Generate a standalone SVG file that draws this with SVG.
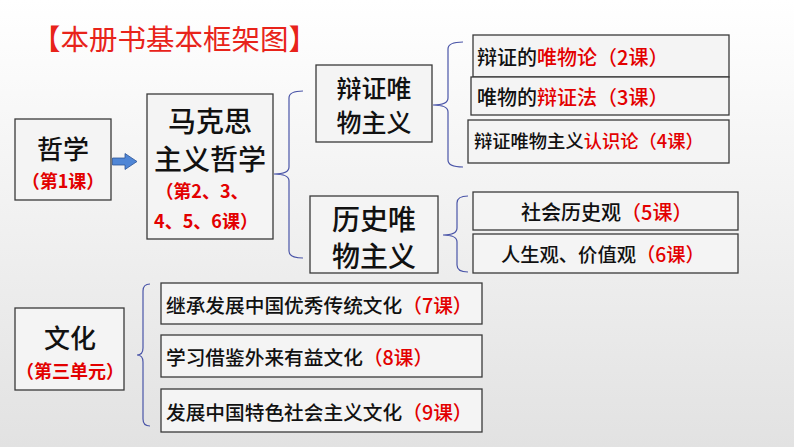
<svg xmlns="http://www.w3.org/2000/svg" width="794" height="447" viewBox="0 0 794 447">
<defs>
<linearGradient id="bg" x1="0" y1="0" x2="0" y2="1">
<stop offset="0" stop-color="#ffffff"/>
<stop offset="0.45" stop-color="#f2f2f2"/>
<stop offset="1" stop-color="#e2e2e2"/>
</linearGradient>
</defs>
<style>
.box{fill:#f4f4f4;stroke:#3a3a3a;stroke-width:1.3}
.t{font-family:"Noto Sans CJK SC","Noto Sans",sans-serif;fill:#111}
.big{font-size:27px;font-weight:500}
.sm{font-size:20px;font-weight:500}
.red{fill:#e30000}
.rs{font-size:18px;font-weight:700;fill:#e30000}
.br{fill:none;stroke:#4a55a8;stroke-width:1.2}
</style>
<rect width="794" height="447" fill="url(#bg)"/>
<g id="title">
<text class="t" x="32" y="50" style="font-size:28.5px;fill:#e8231a;font-weight:400">【本册书基本框架图】</text>
</g>
<g id="connectors">
<path class="br" d="M303,91 Q289,91 289,98 L289,167 Q289,174 274,174 Q289,174 289,181 L289,251 Q289,258 303,258"/>
<path class="br" d="M463,42 Q448,42 448,49 L448,98 Q448,105 433,105 Q448,105 448,112 L448,160 Q448,167 463,167"/>
<path class="br" d="M468,196 Q457,196 457,203 L457,228 Q457,235 443,235 Q457,235 457,242 L457,265 Q457,272 468,272"/>
<path class="br" d="M150,284 Q143,284 143,291 L143,348 Q143,355 137,355 Q143,355 143,362 L143,419 Q143,426 150,426"/>
<path d="M112.5,158 L125,158 L125,153.5 L137,161.5 L125,169.5 L125,165 L112.5,165 Z" fill="#4f86d6" stroke="#2f5597" stroke-width="0.8"/>
</g>
<g id="zhexue">
<rect class="box" x="15" y="119" width="96" height="81"/>
<text class="t big" x="63" y="159" text-anchor="middle" style="font-size:26px">哲学</text>
<text class="t rs" x="63" y="188" text-anchor="middle">（第1课）</text>
</g>
<g id="makesi">
<rect class="box" x="147" y="94" width="126" height="145"/>
<text class="t big" x="210" y="132" text-anchor="middle" style="font-size:28px">马克思</text>
<text class="t big" x="210" y="170" text-anchor="middle" style="font-size:28px">主义哲学</text>
<text class="t rs" x="202" y="198" text-anchor="middle">（第2、3、</text>
<text class="t rs" x="206" y="228" text-anchor="middle">4、5、6课）</text>
</g>
<g id="bianzheng">
<rect class="box" x="316" y="65" width="116" height="77"/>
<text class="t big" x="374" y="98" text-anchor="middle" style="font-size:25px">辩证唯</text>
<text class="t big" x="374" y="132" text-anchor="middle" style="font-size:25px">物主义</text>
</g>
<g id="lishi">
<rect class="box" x="310" y="196" width="128" height="77"/>
<text class="t big" x="374" y="230" text-anchor="middle" style="font-size:28px">历史唯</text>
<text class="t big" x="374" y="267" text-anchor="middle" style="font-size:28px">物主义</text>
</g>
<g id="l2">
<rect class="box" x="473" y="35" width="256" height="42"/>
<text class="t sm" x="477" y="65">辩证的<tspan class="red">唯物论（2课）</tspan></text>
</g>
<g id="l3">
<rect class="box" x="471" y="77" width="258" height="38"/>
<text class="t sm" x="477" y="105">唯物的<tspan class="red">辩证法（3课）</tspan></text>
</g>
<g id="l4">
<rect class="box" x="468" y="120" width="261" height="43"/>
<text class="t sm" x="474" y="148" style="font-size:18.3px">辩证唯物主义<tspan class="red">认识论（4课）</tspan></text>
</g>
<g id="l5">
<rect class="box" x="473" y="192" width="265" height="38"/>
<text class="t sm" x="521" y="220">社会历史观<tspan class="red">（5课）</tspan></text>
</g>
<g id="l6">
<rect class="box" x="473" y="234" width="265" height="39"/>
<text class="t sm" x="501" y="262" style="font-size:19.3px">人生观、价值观<tspan class="red">（6课）</tspan></text>
</g>
<g id="wenhua">
<rect class="box" x="15" y="308" width="109" height="82"/>
<text class="t big" x="70" y="348" text-anchor="middle" style="font-size:26px">文化</text>
<text class="t rs" x="70" y="378" text-anchor="middle">（第三单元）</text>
</g>
<g id="l7">
<rect class="box" x="161" y="283" width="321" height="41"/>
<text class="t sm" x="166" y="313" style="font-size:19.7px">继承发展中国优秀传统文化<tspan class="red">（7课）</tspan></text>
</g>
<g id="l8">
<rect class="box" x="161" y="335" width="321" height="42"/>
<text class="t sm" x="166" y="365" style="font-size:19.7px">学习借鉴外来有益文化<tspan class="red">（8课）</tspan></text>
</g>
<g id="l9">
<rect class="box" x="161" y="389" width="321" height="43"/>
<text class="t sm" x="166" y="420" style="font-size:19.7px">发展中国特色社会主义文化<tspan class="red">（9课）</tspan></text>
</g>
</svg>
